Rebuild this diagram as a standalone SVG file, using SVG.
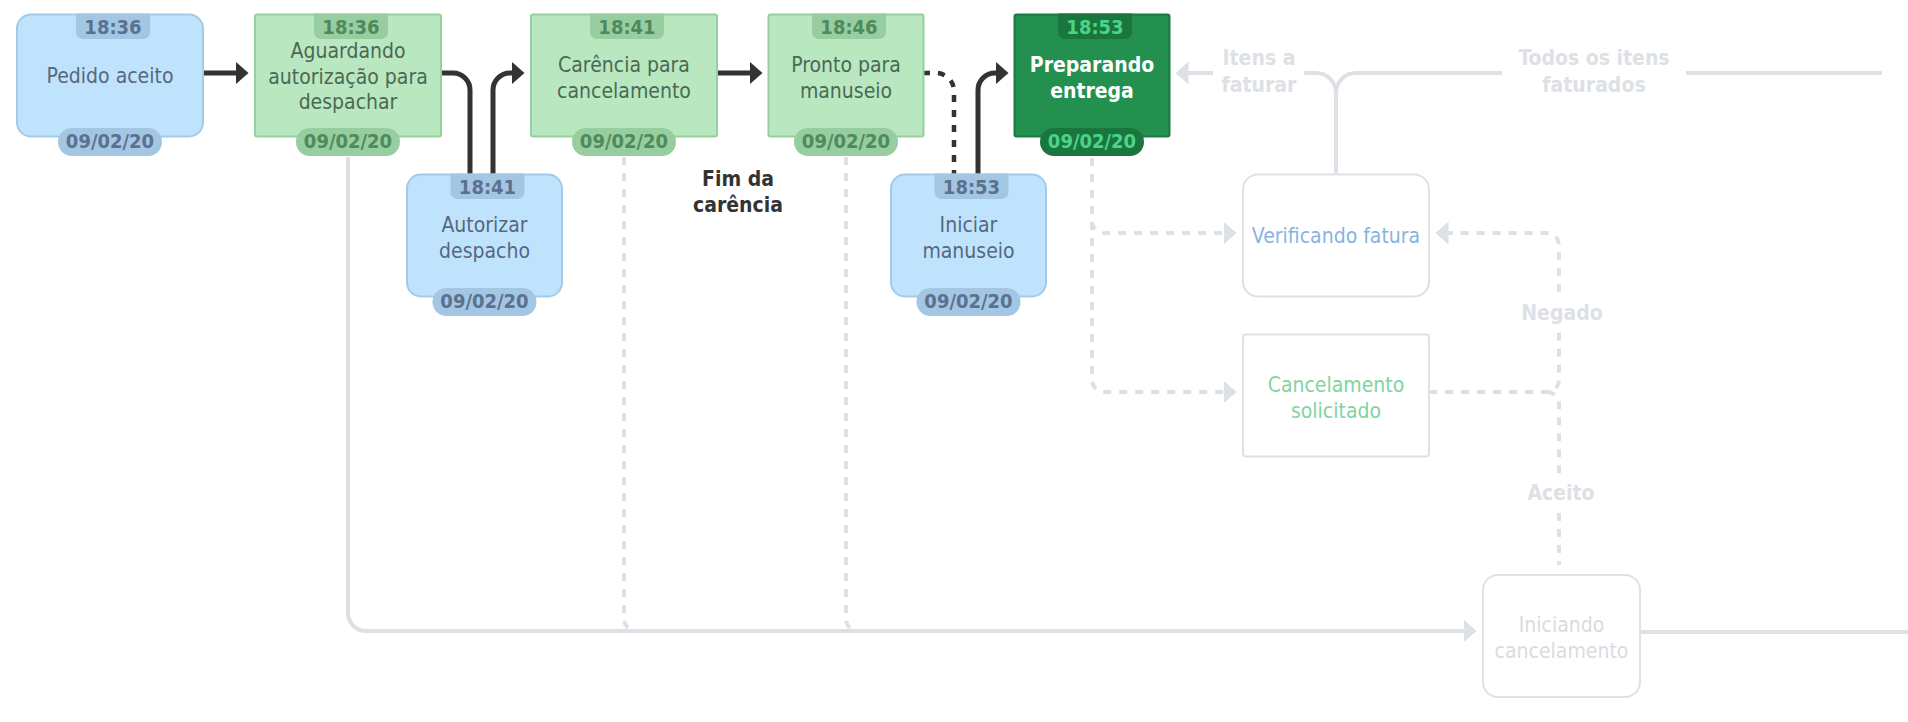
<svg xmlns="http://www.w3.org/2000/svg" width="1908" height="722" viewBox="0 0 1908 722">
<style>
text{font-family:"DejaVu Sans Condensed","DejaVu Sans",sans-serif;font-stretch:condensed;text-anchor:middle}
.lbl{font-size:21px}
.bdg{font-size:20px;font-weight:bold}
.b{font-weight:bold}
.blue rect.n{fill:#c0e3fd;stroke:#a3cbe9;stroke-width:2}
.blue .bg{fill:#a3c7e2}
.blue .bt{fill:#5c7191}
.blue .lbl{fill:#56687f}
.green rect.n{fill:#b9e7c0;stroke:#96d09f;stroke-width:2}
.green .bg{fill:#97cd9f}
.green .bt{fill:#4f8a5e}
.green .lbl{fill:#4b6954}
.dark rect.n{fill:#23904f;stroke:#1b7a42;stroke-width:2}
.dark .bg{fill:#1a763f}
.dark .bt{fill:#4ad488}
.dark .lbl{fill:#ffffff;font-weight:bold}
.ghost rect.n{fill:#ffffff;stroke:#dde1e6;stroke-width:2}
.dk{fill:none;stroke:#333333;stroke-width:5}
.dkd{fill:none;stroke:#333333;stroke-width:4.5;stroke-dasharray:7 8}
.gr{fill:none;stroke:#dde1e6;stroke-width:4}
.grd{fill:none;stroke:#dde1e6;stroke-width:4;stroke-dasharray:8 8}
.gl{fill:#dde1e6;font-size:21px;font-weight:bold}
</style>
<defs>
<marker id="ad" markerUnits="userSpaceOnUse" markerWidth="14" markerHeight="24" viewBox="0 0 14 24" refX="0.5" refY="12" orient="auto">
<path d="M0,0.5 L13,12 L0,23.5 Z" fill="#333333"/>
</marker>
<marker id="ag" markerUnits="userSpaceOnUse" markerWidth="14" markerHeight="24" viewBox="0 0 14 24" refX="0.5" refY="12" orient="auto">
<path d="M0,0.5 L13,12 L0,23.5 Z" fill="#dde1e6"/>
</marker>
</defs>
<rect width="1908" height="722" fill="#ffffff"/>

<g id="connectors">
<path class="gr" d="M348,157 V613 A18,18 0 0 0 366,631 H1464" marker-end="url(#ag)"/>
<path class="gr" d="M1640,632 H1908"/>
<path class="gr" d="M1336,174 V93 A20,20 0 0 0 1316,73 H1304 M1213,73 H1188" marker-end="url(#ag)"/>
<path class="gr" d="M1336,174 V93 A20,20 0 0 1 1356,73 H1502 M1686,73 H1882"/>
<path class="grd" d="M624,157 V619 A12,12 0 0 0 636,631"/>
<path class="grd" d="M846,157 V619 A12,12 0 0 0 858,631"/>
<path class="grd" d="M1092,158 V221 A12,12 0 0 0 1104,233 H1224" marker-end="url(#ag)"/>
<path class="grd" d="M1092,158 V380 A12,12 0 0 0 1104,392 H1224" marker-end="url(#ag)"/>
<path class="grd" d="M1429,392 H1547 A12,12 0 0 0 1559,380 V331 M1559,292 V245 A12,12 0 0 0 1547,233 H1448" marker-end="url(#ag)"/>
<path class="grd" d="M1547,392 A12,12 0 0 1 1559,404 V480 M1559,513 V565"/>
<path class="dk" d="M203,73 H236" marker-end="url(#ad)"/>
<path class="dk" d="M441,73 H453 A17,17 0 0 1 470,90 V174"/>
<path class="dk" d="M493,174 V90 A17,17 0 0 1 510,73 H512" marker-end="url(#ad)"/>
<path class="dk" d="M717,73 H750" marker-end="url(#ad)"/>
<path class="dkd" d="M923,73 H936 A18,18 0 0 1 954,91 V174"/>
<path class="dk" d="M978,174 V90 A17,17 0 0 1 995,73 H996" marker-end="url(#ad)"/>
<text class="gl" x="1259" y="65">Itens a</text>
<text class="gl" x="1259" y="91.7">faturar</text>
<text class="gl" x="1594" y="65">Todos os itens</text>
<text class="gl" x="1594" y="91.7">faturados</text>
<text class="gl" x="1562" y="320">Negado</text>
<text class="gl" x="1561" y="500">Aceito</text>
<text class="b" x="738" y="185.7" font-size="21" fill="#333333">Fim da</text>
<text class="b" x="738" y="211.7" font-size="21" fill="#333333">carência</text>
</g>

<g id="node-pedido-aceito" class="blue">
<rect class="n" x="17" y="14.5" width="186" height="122" rx="14"/>
<path class="bg" d="M76,13.5 H150 V32 A7,7 0 0 1 143,39 H83 A7,7 0 0 1 76,32 Z"/>
<text class="bdg bt" x="113" y="34">18:36</text>
<text class="lbl" x="110" y="83">Pedido aceito</text>
<rect class="bg" x="58" y="128" width="104" height="28" rx="14"/>
<text class="bdg bt" x="110" y="148">09/02/20</text>
</g>

<g id="node-aguardando" class="green">
<rect class="n" x="255" y="14.5" width="186" height="122" rx="2"/>
<path class="bg" d="M314,13.5 H388 V32 A7,7 0 0 1 381,39 H321 A7,7 0 0 1 314,32 Z"/>
<text class="bdg bt" x="351" y="34">18:36</text>
<text class="lbl" x="348" y="58.3">Aguardando</text>
<text class="lbl" x="348" y="83.7">autorização para</text>
<text class="lbl" x="348" y="109">despachar</text>
<rect class="bg" x="296" y="128" width="104" height="28" rx="14"/>
<text class="bdg bt" x="348" y="148">09/02/20</text>
</g>

<g id="node-autorizar" class="blue">
<rect class="n" x="407" y="174.5" width="155" height="122" rx="14"/>
<path class="bg" d="M450.5,173.5 H524.5 V192 A7,7 0 0 1 517.5,199 H457.5 A7,7 0 0 1 450.5,192 Z"/>
<text class="bdg bt" x="487.5" y="194">18:41</text>
<text class="lbl" x="484.5" y="231.7">Autorizar</text>
<text class="lbl" x="484.5" y="257.7">despacho</text>
<rect class="bg" x="432.5" y="288" width="104" height="28" rx="14"/>
<text class="bdg bt" x="484.5" y="308">09/02/20</text>
</g>

<g id="node-carencia" class="green">
<rect class="n" x="531" y="14.5" width="186" height="122" rx="2"/>
<path class="bg" d="M590,13.5 H664 V32 A7,7 0 0 1 657,39 H597 A7,7 0 0 1 590,32 Z"/>
<text class="bdg bt" x="627" y="34">18:41</text>
<text class="lbl" x="624" y="71.7">Carência para</text>
<text class="lbl" x="624" y="97.7">cancelamento</text>
<rect class="bg" x="572" y="128" width="104" height="28" rx="14"/>
<text class="bdg bt" x="624" y="148">09/02/20</text>
</g>

<g id="node-pronto" class="green">
<rect class="n" x="768.5" y="14.5" width="155" height="122" rx="2"/>
<path class="bg" d="M812,13.5 H886 V32 A7,7 0 0 1 879,39 H819 A7,7 0 0 1 812,32 Z"/>
<text class="bdg bt" x="849" y="34">18:46</text>
<text class="lbl" x="846" y="71.7">Pronto para</text>
<text class="lbl" x="846" y="97.7">manuseio</text>
<rect class="bg" x="794" y="128" width="104" height="28" rx="14"/>
<text class="bdg bt" x="846" y="148">09/02/20</text>
</g>

<g id="node-iniciar-manuseio" class="blue">
<rect class="n" x="891" y="174.5" width="155" height="122" rx="14"/>
<path class="bg" d="M934.5,173.5 H1008.5 V192 A7,7 0 0 1 1001.5,199 H941.5 A7,7 0 0 1 934.5,192 Z"/>
<text class="bdg bt" x="971.5" y="194">18:53</text>
<text class="lbl" x="968.5" y="231.7">Iniciar</text>
<text class="lbl" x="968.5" y="257.7">manuseio</text>
<rect class="bg" x="916.5" y="288" width="104" height="28" rx="14"/>
<text class="bdg bt" x="968.5" y="308">09/02/20</text>
</g>

<g id="node-preparando" class="dark">
<rect class="n" x="1014.5" y="14.5" width="155" height="122" rx="2"/>
<path class="bg" d="M1058,13.5 H1132 V32 A7,7 0 0 1 1125,39 H1065 A7,7 0 0 1 1058,32 Z"/>
<text class="bdg bt" x="1095" y="34">18:53</text>
<text class="lbl" x="1092" y="71.7">Preparando</text>
<text class="lbl" x="1092" y="97.7">entrega</text>
<rect class="bg" x="1040" y="128" width="104" height="28" rx="14"/>
<text class="bdg bt" x="1092" y="148">09/02/20</text>
</g>

<g id="node-verificando" class="ghost">
<rect class="n" x="1243" y="174.5" width="186" height="122" rx="15"/>
<text class="lbl" x="1336" y="243.3" fill="#86b4e1">Verificando fatura</text>
</g>

<g id="node-cancelamento-solicitado" class="ghost">
<rect class="n" x="1243" y="334.5" width="186" height="122" rx="3"/>
<text class="lbl" x="1336" y="391.7" fill="#7fd4a0">Cancelamento</text>
<text class="lbl" x="1336" y="417.7" fill="#7fd4a0">solicitado</text>
</g>

<g id="node-iniciando-cancelamento" class="ghost">
<rect class="n" x="1483" y="575" width="157" height="122" rx="15"/>
<text class="lbl" x="1561.5" y="632" fill="#d8dce1">Iniciando</text>
<text class="lbl" x="1561.5" y="658" fill="#d8dce1">cancelamento</text>
</g>
</svg>
